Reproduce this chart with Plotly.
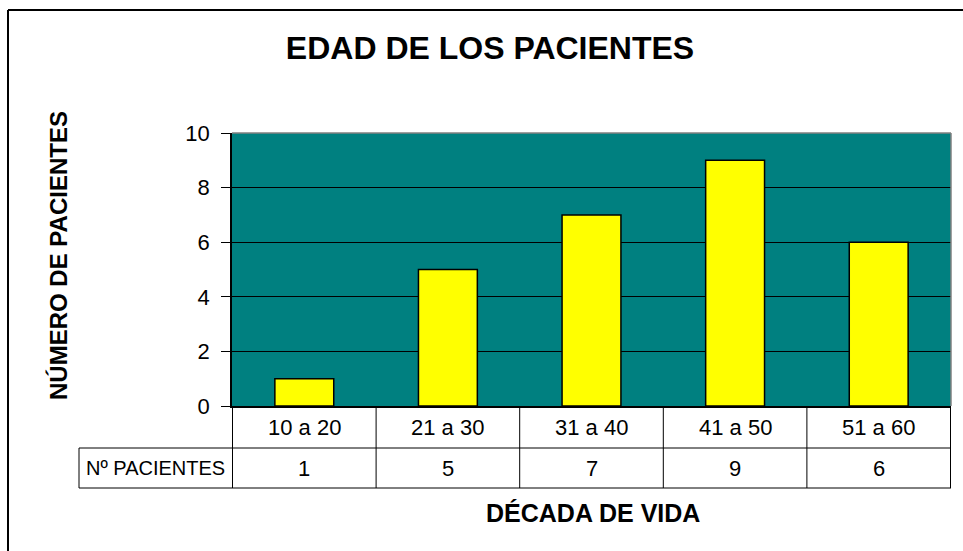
import plotly.graph_objects as go

# data
decadas = ["10 a 20", "21 a 30", "31 a 40", "41 a 50", "51 a 60"]
pacientes = [1, 5, 7, 9, 6]
y_ticks = [0, 2, 4, 6, 8, 10]
row_label = "Nº PACIENTES"

FONT = "Liberation Sans, Arial, sans-serif"

# plot area in pixels: x 232..951, y 133..406
W, H = 963, 551
L, R, T, B = 232, 951, 133, 406


def px_x(p):
    return (p - L) / (R - L)


def px_y(p):
    return (B - p) / (B - T)


trace = go.Bar(
    x=decadas,
    y=pacientes,
    marker=dict(color="#FFFF00", line=dict(color="black", width=1.5)),
    hoverinfo="x+y",
)

fig = go.Figure(data=[trace])

shapes = []
# grey plot-area border (top and right)
shapes.append(dict(type="line", xref="paper", yref="paper", x0=0, x1=1, y0=1, y1=1,
                   line=dict(color="#808080", width=1.5)))
shapes.append(dict(type="line", xref="paper", yref="paper", x0=1, x1=1, y0=0, y1=1,
                   line=dict(color="#808080", width=1.5)))

# data table lines
row1 = px_y(448)
row2 = px_y(488)
for i in range(len(decadas) + 1):
    shapes.append(dict(type="line", xref="x", yref="paper", x0=i - 0.5, x1=i - 0.5,
                       y0=0, y1=row2, line=dict(color="black", width=1)))
shapes.append(dict(type="line", xref="paper", yref="paper", x0=px_x(79), x1=1,
                   y0=row1, y1=row1, line=dict(color="black", width=1)))
shapes.append(dict(type="line", xref="paper", yref="paper", x0=px_x(79), x1=1,
                   y0=row2, y1=row2, line=dict(color="black", width=1)))
shapes.append(dict(type="line", xref="paper", yref="paper", x0=px_x(79), x1=px_x(79),
                   y0=row1, y1=row2, line=dict(color="black", width=1)))

# outer chart border (left and top)
shapes.append(dict(type="line", xref="paper", yref="paper", x0=px_x(8), x1=px_x(8),
                   y0=px_y(10), y1=px_y(560), line=dict(color="black", width=2)))
shapes.append(dict(type="line", xref="paper", yref="paper", x0=px_x(8), x1=px_x(970),
                   y0=px_y(10), y1=px_y(10), line=dict(color="black", width=2)))

annotations = []
for d, v in zip(decadas, pacientes):
    annotations.append(dict(x=d, y=px_y(427), xref="x", yref="paper", text=d,
                            xanchor="center", yanchor="middle", showarrow=False,
                            font=dict(family=FONT, size=22, color="black")))
    annotations.append(dict(x=d, y=px_y(468), xref="x", yref="paper", text=str(v),
                            xanchor="center", yanchor="middle", showarrow=False,
                            font=dict(family=FONT, size=22, color="black")))
annotations.append(dict(x=px_x(155), y=px_y(468), xref="paper", yref="paper", text=row_label,
                        xanchor="center", yanchor="middle", showarrow=False,
                        font=dict(family=FONT, size=20, color="black")))
annotations.append(dict(x=px_x(58), y=px_y(256), xref="paper", yref="paper",
                        text="<b>NÚMERO DE PACIENTES</b>", textangle=-90, showarrow=False,
                        xanchor="center", yanchor="middle",
                        font=dict(family=FONT, size=24, color="black")))
annotations.append(dict(x=px_x(593), y=px_y(513), xref="paper", yref="paper",
                        text="<b>DÉCADA DE VIDA</b>", showarrow=False,
                        xanchor="center", yanchor="middle",
                        font=dict(family=FONT, size=25, color="black")))

fig.update_layout(
    title=dict(
        text="<b>EDAD DE LOS PACIENTES</b>",
        font=dict(family=FONT, size=32, color="black"),
        x=490 / W, xanchor="center",
        y=1 - 48 / H, yanchor="middle",
    ),
    xaxis=dict(
        showticklabels=False,
        ticks="",
        showline=True,
        linecolor="black",
        linewidth=1.5,
        showgrid=False,
        fixedrange=True,
    ),
    yaxis=dict(
        range=[0, 10],
        tickvals=y_ticks,
        ticks="outside",
        ticklen=9,
        tickcolor="black",
        ticklabelstandoff=7,
        tickfont=dict(family=FONT, size=22, color="black"),
        showline=True,
        linecolor="black",
        linewidth=1.5,
        showgrid=True,
        gridcolor="black",
        gridwidth=1,
        zeroline=False,
        fixedrange=True,
    ),
    bargap=0.59,
    shapes=shapes,
    annotations=annotations,
    margin=dict(l=L, r=W - R, t=T, b=H - B, pad=0),
    paper_bgcolor="white",
    plot_bgcolor="#008080",
    width=W,
    height=H,
    showlegend=False,
)

# drop the page's default body margin so the figure sits at (0, 0)
fig.write_html("out.html", config={"displayModeBar": False},
               post_script="document.body.style.margin='0';")
